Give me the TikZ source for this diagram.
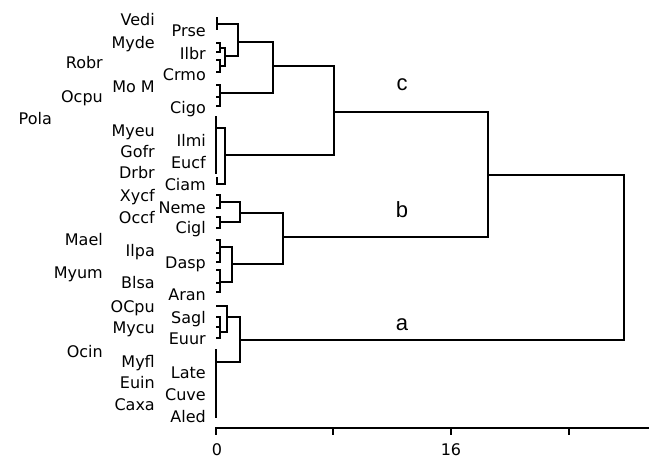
\documentclass[tikz,border=0pt]{standalone}
\usepackage{fontspec}
\setmainfont{DejaVu Sans}
\newfontfamily\helv{Liberation Sans}
\begin{document}
\begin{tikzpicture}[x=1pt,y=-1pt,
  tree/.style={line width=1.4pt, line cap=rect, line join=miter},
  lbl/.style={anchor=east, inner sep=0pt, text height=11.5pt, text depth=0pt, font=\fontsize{16}{18}\selectfont},
  ticklbl/.style={anchor=center, inner sep=0pt, text height=11.5pt, text depth=0pt, font=\fontsize{16}{18}\selectfont},
  grp/.style={anchor=center, inner sep=0pt, font=\helv\fontsize{22}{26}\selectfont}]
\useasboundingbox (0,0) rectangle (649,459);

% ---- labels, column 3
\foreach \t/\y in {Prse/31, Ilbr/54, Crmo/75, Cigo/108, Ilmi/141, Eucf/163, Ciam/185, Neme/208, Cigl/228, Dasp/263, Aran/295, Sagl/318, Euur/339, Late/373, Cuve/395, Aled/417}
  \node[lbl] (c3\t) at (206,\y) {\t};
% ---- column 2
\foreach \t/\y in {Vedi/20, Myde/43, Mo M/87, Myeu/131, Gofr/152, Drbr/173, Xycf/196, Occf/218, Ilpa/251, Blsa/283, OCpu/307, Mycu/328, Myfl/362, Euin/383, Caxa/405}
  \node[lbl] at (155,\y) {\t};
% ---- column 1
\foreach \t/\y in {Robr/63, Ocpu/97, Mael/240, Myum/273, Ocin/352}
  \node[lbl] (c1\t) at (103,\y) {\t};
% ---- column 0
\node[lbl] (pola) at (52,119) {Pola};

% ---- group c
\draw[tree] (217,18) -- (217,29);
\draw[tree] (217,24) -- (238,24);
\draw[tree] (217,43) -- (220,43) -- (220,52) -- (217,52);
\draw[tree] (220,48) -- (225,48);
\draw[tree] (217,60) -- (220,60) -- (220,72) -- (217,72);
\draw[tree] (220,66) -- (225,66);
\draw[tree] (225,48) -- (225,66);
\draw[tree] (225,56) -- (238,56);
\draw[tree] (238,24) -- (238,56);
\draw[tree] (238,42) -- (273,42);
\draw[tree] (217,85) -- (220,85) -- (220,106) -- (217,106);
\draw[tree] (217,97) -- (220,97);
\draw[tree] (220,93) -- (273,93);
\draw[tree] (273,42) -- (273,93);
\draw[tree] (273,66) -- (334,66);
\draw[tree] (216,117) -- (216,173);
\draw[tree] (216,128) -- (225,128) -- (225,184) -- (217,184) -- (217,178);
\draw[tree] (225,155) -- (334,155);
\draw[tree] (334,66) -- (334,155);
\draw[tree] (334,112) -- (488,112);

% ---- group b
\draw[tree] (217,195) -- (220,195) -- (220,208) -- (217,208);
\draw[tree] (220,202) -- (240,202);
\draw[tree] (217,217) -- (220,217) -- (220,228) -- (217,228);
\draw[tree] (220,222) -- (240,222);
\draw[tree] (240,202) -- (240,222);
\draw[tree] (240,213) -- (283,213);
\draw[tree] (217,240) -- (220,240) -- (220,262) -- (217,262);
\draw[tree] (217,253) -- (220,253);
\draw[tree] (220,247) -- (232,247);
\draw[tree] (217,270) -- (220,270) -- (220,292) -- (217,292);
\draw[tree] (217,283) -- (220,283);
\draw[tree] (220,282) -- (232,282);
\draw[tree] (232,247) -- (232,282);
\draw[tree] (232,264) -- (283,264);
\draw[tree] (283,213) -- (283,264);
\draw[tree] (283,237) -- (488,237);
\draw[tree] (488,112) -- (488,237);
\draw[tree] (488,175) -- (624,175);

% ---- group a
\draw[tree] (217,306) -- (227,306);
\draw[tree] (217,317) -- (220,317) -- (220,338) -- (217,338);
\draw[tree] (217,327) -- (220,327);
\draw[tree] (220,332) -- (227,332);
\draw[tree] (227,306) -- (227,332);
\draw[tree] (227,317) -- (240,317);
\draw[tree] (240,317) -- (240,362);
\draw[tree] (216,362) -- (240,362);
\draw[tree] (216,350) -- (216,417);
\draw[tree] (240,340) -- (624,340);
\draw[tree] (624,175) -- (624,340);

% ---- group letters
\node[grp] (gc) at (402,85) {c};
\node[grp] (gb) at (402,210) {b};
\node[grp] (ga) at (402,325) {a};

% ---- axis
\draw[tree] (216,428) -- (649,428);
\foreach \x in {216,333,451,569} \draw[tree] (\x,428) -- (\x,434);
\node[ticklbl] (t0) at (217,450) {0};
\node[ticklbl] (t16) at (451,450) {16};
\end{tikzpicture}
\end{document}
